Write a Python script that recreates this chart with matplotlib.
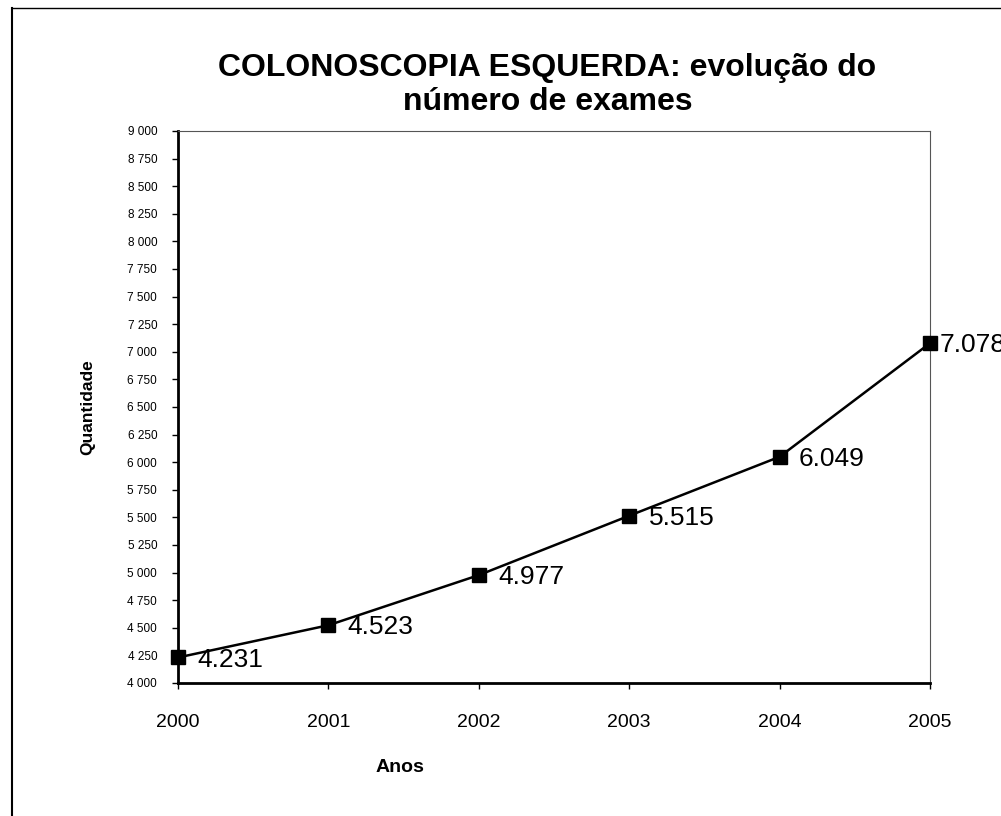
import numpy as np
import matplotlib
matplotlib.use('Agg')
import matplotlib.pyplot as plt
from matplotlib.lines import Line2D
from matplotlib.ticker import FuncFormatter

plt.rcParams['font.family'] = ['Liberation Sans', 'DejaVu Sans']

# dados
anos = [2000, 2001, 2002, 2003, 2004, 2005]
exames = [4231, 4523, 4977, 5515, 6049, 7078]
rotulos = ['4.231', '4.523', '4.977', '5.515', '6.049', '7.078']

fig = plt.figure(figsize=(10.01, 8.16), dpi=100)
ax = fig.add_axes([0.1778, 0.163, 0.7513, 0.6765])

# moldura externa (so esquerda e topo aparecem)
fig.add_artist(Line2D([0.012, 0.012], [0, 0.99], color='black', lw=1.5))
fig.add_artist(Line2D([0.012, 1.0], [0.99, 0.99], color='black', lw=1.0))

ax.plot(anos, exames, color='black', lw=1.8, marker='s', markersize=10.5,
        markerfacecolor='black', markeredgecolor='black', clip_on=False, zorder=3)

for i in range(len(anos)):
    dx = 7 if i == len(anos) - 1 else 14
    ax.annotate(rotulos[i], (anos[i], exames[i]), xytext=(dx, -1.5),
                textcoords='offset points', fontsize=19, va='center', ha='left',
                annotation_clip=False)

ax.set_xlim(2000, 2005)
ax.set_ylim(4000, 9000)
ax.set_xticks(anos)
ax.set_yticks(np.arange(4000, 9001, 250))
ax.yaxis.set_major_formatter(FuncFormatter(lambda v, p: f'{int(v):,}'.replace(',', ' ')))

ax.tick_params(axis='y', direction='out', length=4, width=1, labelsize=8.5, pad=11)
ax.tick_params(axis='x', direction='out', length=4, width=1, labelsize=14, pad=18)

ax.spines['left'].set_linewidth(2)
ax.spines['bottom'].set_linewidth(2)
ax.spines['right'].set_linewidth(0.8)
ax.spines['right'].set_color('#555555')
ax.spines['top'].set_linewidth(0.8)
ax.spines['top'].set_color('#555555')

ax.set_ylabel('Quantidade', fontsize=12.5, fontweight='bold')
ax.yaxis.set_label_coords(-0.11, 0.5)
ax.set_xlabel('Anos', fontsize=14, fontweight='bold')
ax.xaxis.set_label_coords(0.295, -0.137)

fig.text(0.547, 0.896, 'COLONOSCOPIA ESQUERDA: evolução do\nnúmero de exames',
         ha='center', va='center', fontsize=23, fontweight='bold', linespacing=1.2)

fig.savefig('out.png', dpi=100)
